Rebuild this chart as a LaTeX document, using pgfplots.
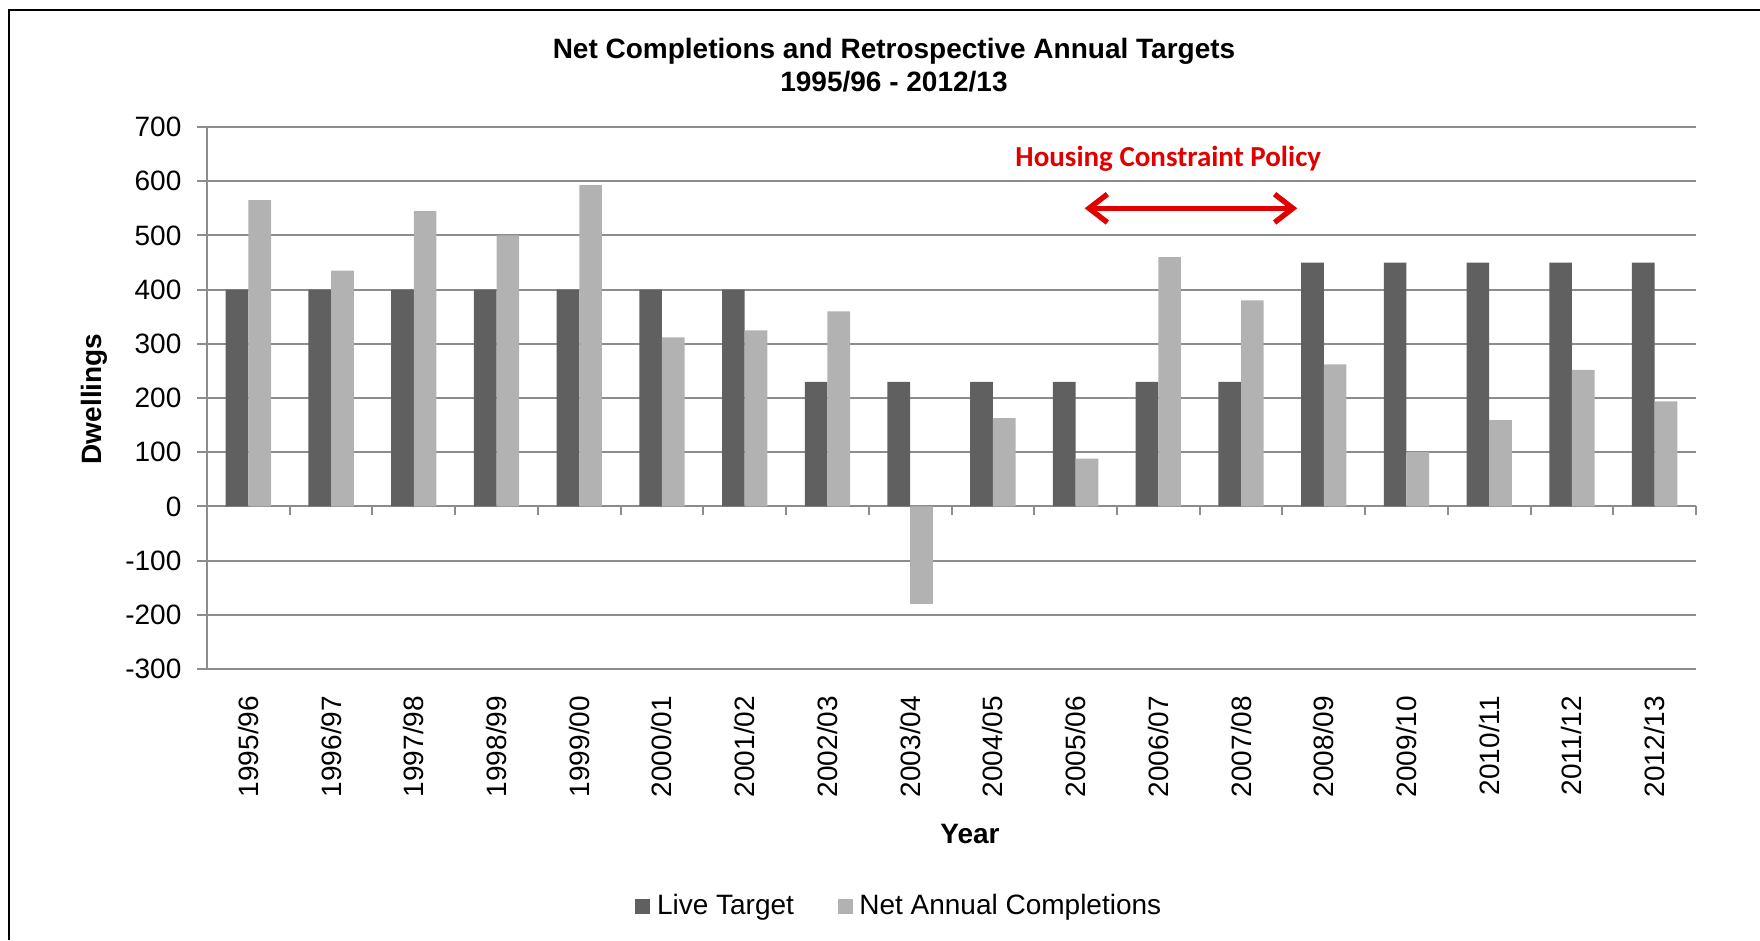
\documentclass[border=0pt]{standalone}
\usepackage{pgfplots}
\usepackage{pgfplotstable}
\pgfplotsset{compat=1.18}
\usepackage{fontspec}
\setmainfont{Liberation Sans}
\newfontfamily\calibri{Carlito}
\usetikzlibrary{arrows.meta}
\definecolor{darkbar}{HTML}{606060}
\definecolor{lightbar}{HTML}{B2B2B2}
\definecolor{gridc}{HTML}{8C8C8C}
\definecolor{annred}{HTML}{E00000}

% live target and net annual completions, one row per year
\pgfplotstableread{
idx live net
0  400  565
1  400  435
2  400  545
3  400  500
4  400  593
5  400  312
6  400  325
7  230  360
8  230 -180
9  230  163
10 230   88
11 230  460
12 230  380
13 450  262
14 450  100
15 450  159
16 450  252
17 450  194
}\datatable

\begin{document}
\begin{tikzpicture}
\useasboundingbox (0,0) rectangle (528pt,282pt);
\draw[black, line width=0.7pt] (2.7pt,0) -- (2.7pt,279pt) -- (528pt,279pt);
\node[font=\bfseries\fontsize{8.4}{9.9}\selectfont, align=center] at (268.2pt,262.5pt)
  {Net Completions and Retrospective Annual Targets\\1995/96 - 2012/13};
\node[font=\bfseries\fontsize{8.4}{10}\selectfont, rotate=90] at (28.2pt,162.3pt) {Dwellings};
\node[font=\bfseries\fontsize{8.4}{10}\selectfont] at (291pt,31.8pt) {Year};

\begin{axis}[
    at={(62.1pt,81.3pt)}, anchor=south west,
    scale only axis, width=446.7pt, height=162.6pt,
    ybar=0pt, bar width=0.274,
    xmin=-0.5, xmax=17.5, ymin=-300, ymax=700,
    ytick={-300,-200,...,700},
    xtick={0,...,17},
    xticklabels={1995/96,1996/97,1997/98,1998/99,1999/00,2000/01,2001/02,2002/03,2003/04,
                 2004/05,2005/06,2006/07,2007/08,2008/09,2009/10,2010/11,2011/12,2012/13},
    axis y line*=left, axis x line*=bottom,
    axis line style={gridc, line width=0.6pt},
    ymajorgrids, grid style={gridc, line width=0.6pt},
    tick align=outside, major tick length=3pt,
    ytick style={gridc, line width=0.6pt},
    xtick style={draw=none},
    tick label style={font=\fontsize{8.4}{10}\selectfont},
    /pgf/number format/assume math mode=true,
    yticklabel style={anchor=east, inner sep=0pt, xshift=-4.5pt},
    xticklabel style={rotate=90, anchor=east, inner sep=0pt},
    xticklabel shift=4.9pt,
    clip=false,
    legend columns=2,
    legend style={at={(0.4665,-0.438)}, anchor=center, draw=none,
        font=\fontsize{8.4}{10}\selectfont,
        /tikz/every even column/.append style={column sep=11.1pt}},
    legend image code/.code={\fill[#1] (0pt,-2.25pt) rectangle (4.5pt,2.25pt);},
]
\addplot[fill=darkbar, draw=none] table[x=idx, y=live] {\datatable};
\addplot[fill=lightbar, draw=none] table[x=idx, y=net] {\datatable};
\legend{Live Target, Net Annual Completions}

\pgfplotsinvokeforeach{0.5,1.5,...,17.5}{
  \draw[gridc, line width=0.6pt] (axis cs:#1,0) -- ([yshift=-2.7pt]axis cs:#1,0);
}
\draw[annred, line width=1.6pt, {Straight Barb[length=5.5pt,width=8.5pt]}-{Straight Barb[length=5.5pt,width=8.5pt]}]
  (axis cs:10.11,550) -- (axis cs:12.68,550);
\node[annred, font=\calibri\bfseries\fontsize{8.7}{10}\selectfont] at (axis cs:11.12,642)
  {Housing Constraint Policy};
\end{axis}
\end{tikzpicture}
\end{document}
